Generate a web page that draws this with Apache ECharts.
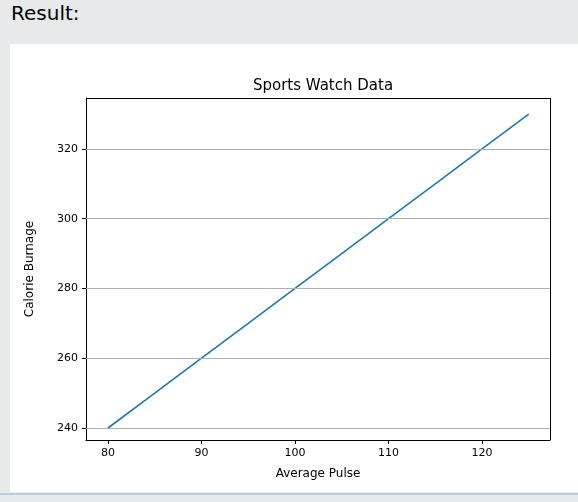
<!DOCTYPE html>
<html><head><meta charset="utf-8">
<script src="https://cdn.jsdelivr.net/npm/echarts@6/dist/echarts.min.js"></script>
<style>
body{margin:0;width:578px;height:502px;background:#e8e9eb;position:relative;overflow:hidden;font-family:"DejaVu Sans",sans-serif}
#hdr{position:absolute;left:11px;top:1px;font-size:20px;color:#000}
#panel{position:absolute;left:10px;top:44px;width:568px;height:448px;background:#fff}
#bl{position:absolute;left:0;top:493px;width:578px;height:2px;background:#b9cde4}
#c{position:absolute;left:0;top:0;width:578px;height:502px}
</style></head><body>
<div id="hdr">Result:</div><div id="panel"></div><div id="bl"></div>
<div id="c"></div>
<script>
const pulse=[80,85,90,95,100,105,110,115,120,125];
const calories=[240,250,260,270,280,290,300,310,320,330];
const xTicks=[80,90,100,110,120];
const yTicks=[240,260,280,300,320];
const ch=echarts.init(document.getElementById('c'));
const font="DejaVu Sans";
ch.setOption({
 animation:false,
 title:{text:'Sports Watch Data',left:318,top:74,textAlign:'center',textStyle:{fontFamily:font,fontSize:15,fontWeight:'normal',color:'#000'}},
 grid:{left:86,right:28,top:98,bottom:62},
 xAxis:{type:'value',min:77.65,max:127.27,name:'Average Pulse',nameLocation:'middle',nameGap:28,
  nameTextStyle:{fontFamily:font,fontSize:12,color:'#000'},
  axisLine:{show:true,onZero:false,lineStyle:{color:'#000'}},
  axisTick:{show:true,customValues:xTicks,length:4,lineStyle:{color:'#000'}},
  axisLabel:{customValues:xTicks,fontFamily:font,fontSize:11,color:'#000',margin:8},
  splitLine:{show:false}},
 yAxis:{type:'value',min:236.56,max:334.6,name:'Calorie Burnage',nameLocation:'middle',nameGap:50,
  nameTextStyle:{fontFamily:font,fontSize:12,color:'#000'},
  axisLine:{show:true,lineStyle:{color:'#000'}},
  axisTick:{show:true,customValues:yTicks,length:4,lineStyle:{color:'#000'}},
  axisLabel:{customValues:yTicks,fontFamily:font,fontSize:11,color:'#000',margin:8},
  splitLine:{show:false}},
 series:[{type:'line',data:pulse.map((p,i)=>[p,calories[i]]),showSymbol:false,lineStyle:{color:'#1f77b4',width:1.6},
  markLine:{silent:true,symbol:'none',label:{show:false},lineStyle:{color:'#b0b0b0',type:'solid',width:1},
   data:yTicks.map(v=>({yAxis:v}))}},
  {type:'line',data:[],markLine:{silent:true,symbol:'none',label:{show:false},lineStyle:{color:'#000',width:1,type:'solid'},
   data:[{yAxis:334.6},{xAxis:127.27}]}}]
});
</script></body></html>
